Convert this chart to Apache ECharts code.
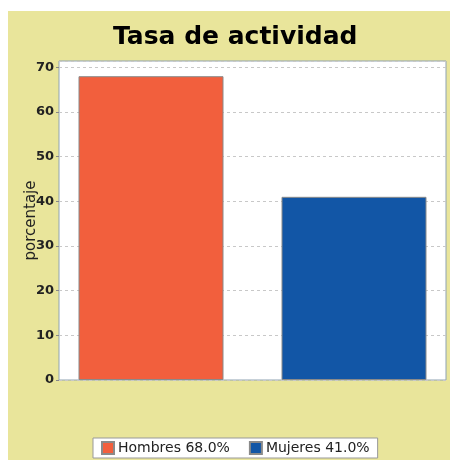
<!DOCTYPE html>
<html>
<head>
<meta charset="utf-8">
<script src="https://cdn.jsdelivr.net/npm/echarts@6/dist/echarts.min.js"></script>
<style>
html,body{margin:0;padding:0;background:#ffffff;overflow:hidden;}
#c{position:absolute;left:8px;top:11px;width:442px;height:449px;background:#e9e59b;}
</style>
</head>
<body>
<div id="c"></div>
<script>
const categories = ['Tasa'];
const seriesNames = ['Hombres 68.0%', 'Mujeres 41.0%'];
const hombres = [68];
const mujeres = [41];
const yTicks = [0, 10, 20, 30, 40, 50, 60, 70];

const chart = echarts.init(document.getElementById('c'), null, {renderer: 'canvas'});
chart.setOption({
  backgroundColor: '#e9e59b',
  animation: false,
  title: {
    text: 'Tasa de actividad',
    left: 100, top: 9,
    textStyle: {fontFamily: 'DejaVu Sans', fontWeight: 'bold', fontSize: 25, color: '#000'}
  },
  legend: {
    data: seriesNames,
    bottom: 2, left: 85,
    icon: 'rect', itemWidth: 12, itemHeight: 12, itemGap: 19,
    backgroundColor: '#ffffff', borderColor: '#999', borderWidth: 1,
    padding: [3, 8],
    textStyle: {fontFamily: 'DejaVu Sans', fontSize: 14, color: '#222', padding: [0,0,0,-1]}
  },
  grid: {
    left: 51, top: 50, right: 4, bottom: 80,
    outerBoundsMode: 'none',
    show: true, backgroundColor: '#ffffff', borderColor: '#8fa3b3', borderWidth: 1
  },
  xAxis: {
    type: 'category', data: categories,
    axisLine: {show: false}, axisTick: {show: false}, axisLabel: {show: false}
  },
  yAxis: {
    type: 'value', min: 0, max: 71.4, interval: 10,
    name: 'porcentaje', nameLocation: 'middle', nameGap: 20, nameMoveOverlap: false,
    nameTextStyle: {fontFamily: 'DejaVu Sans', fontSize: 15, color: '#222'},
    axisLine: {show: false},
    axisTick: {show: true, length: 3, lineStyle: {color: '#888'}},
    axisLabel: {showMaxLabel: false, fontFamily: 'DejaVu Sans', fontWeight: 'bold', fontSize: 13, color: '#222', margin: 5,
      formatter: v => yTicks.includes(v) ? String(v) : ''},
    splitLine: {show: true, lineStyle: {color: '#c8c8c8', type: [3, 3], width: 1}}
  },
  series: [
    {name: seriesNames[0], type: 'bar', data: hombres, barWidth: 145, barGap: '40%',
      itemStyle: {color: '#f25f3d', borderColor: '#8a8a8a', borderWidth: 1}},
    {name: seriesNames[1], type: 'bar', data: mujeres, barWidth: 145,
      itemStyle: {color: '#1256a6', borderColor: '#8a8a8a', borderWidth: 1}}
  ]
});
</script>
</body>
</html>
